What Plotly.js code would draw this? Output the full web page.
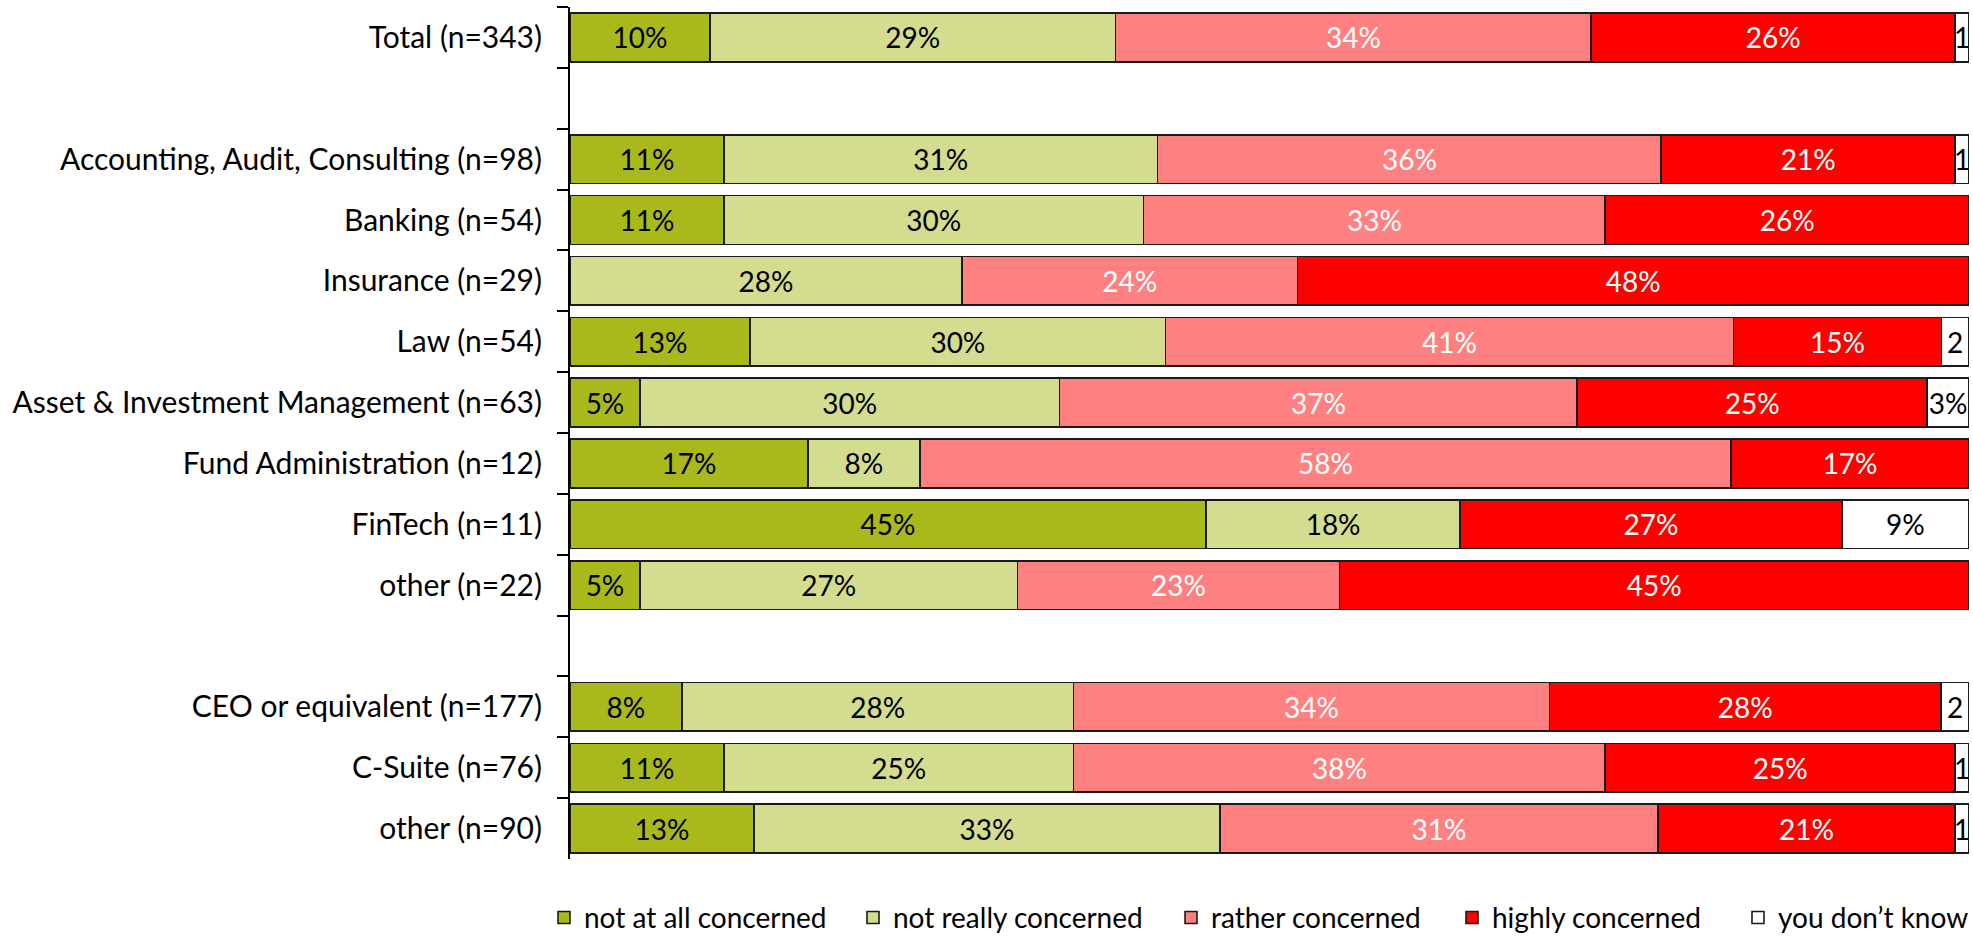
<!DOCTYPE html>
<html>
<head>
<meta charset="utf-8">
<script src="https://cdn.plot.ly/plotly-3.0.1.min.js"></script>
<style>
  html, body { margin: 0; padding: 0; background: #ffffff; }
  #chart { width: 1973px; height: 936px; }
</style>
</head>
<body>
<div id="chart"></div>
<script>
// Row labels, top to bottom; the whitespace-only entries are spacer rows.
const rowLabels = [
  'Total (n=343)',
  ' ',
  'Accounting, Audit, Consulting (n=98)',
  'Banking (n=54)',
  'Insurance (n=29)',
  'Law (n=54)',
  'Asset & Investment Management (n=63)',
  'Fund Administration (n=12)',
  'FinTech (n=11)',
  'other (n=22)',
  '  ',
  'CEO or equivalent (n=177)',
  'C-Suite (n=76)',
  'other (n=90)'
];

// Share of respondents per answer (%), one entry per row above.
const notAtAllConcerned  = [10, null, 11, 11, null, 13,  5, 17,   45,  5, null,  8, 11, 13];
const notReallyConcerned = [29, null, 31, 30, 28,   30, 30,  8,   18, 27, null, 28, 25, 33];
const ratherConcerned    = [34, null, 36, 33, 24,   41, 37, 58, null, 23, null, 34, 38, 31];
const highlyConcerned    = [26, null, 21, 26, 48,   15, 25, 17,   27, 45, null, 28, 25, 21];
const youDontKnow        = [ 1, null,  1, null, null, 2,  3, null,  9, null, null, 2,  1,  1];

const seriesNames = ['not at all concerned', 'not really concerned', 'rather concerned', 'highly concerned', 'you don\u2019t know'];

const FONT = 'Lato, "Open Sans", sans-serif';

// Plot area in pixels, used to place the legend entries under it.
const PLOT_LEFT = 570;
const PLOT_RIGHT = 4;
const PLOT_WIDTH = 1973 - PLOT_LEFT - PLOT_RIGHT;
// Left edge of each legend entry (px from the page's left side).
const legendLeftPx = [544, 853, 1171, 1452, 1738];

// Very narrow segments only have room for the number itself.
function segmentLabel(v) {
  if (v === null || v === undefined) return '';
  return v < 3 ? String(v) : v + '%';
}

function makeTrace(idx, values, fill, textColor) {
  return {
    type: 'bar',
    orientation: 'h',
    name: seriesNames[idx],
    legend: idx === 0 ? 'legend' : 'legend' + (idx + 1),
    y: rowLabels,
    x: values,
    text: values.map(segmentLabel),
    textposition: 'inside',
    insidetextanchor: 'middle',
    constraintext: 'none',
    textangle: 0,
    cliponaxis: false,
    textfont: { family: FONT, size: 28, color: textColor },
    marker: { color: fill, line: { color: '#1a1a1a', width: 1.6 } },
    hoverinfo: 'name+x'
  };
}

const traces = [
  makeTrace(0, notAtAllConcerned,  '#A9B81B', '#000000'),
  makeTrace(1, notReallyConcerned, '#D3DC8F', '#000000'),
  makeTrace(2, ratherConcerned,    '#FF8080', '#ffffff'),
  makeTrace(3, highlyConcerned,    '#FF0000', '#ffffff'),
  makeTrace(4, youDontKnow,        '#ffffff', '#000000')
];

function legendAt(px) {
  return {
    orientation: 'h',
    x: (px - PLOT_LEFT) / PLOT_WIDTH,
    xanchor: 'left',
    y: -0.069,
    yanchor: 'middle',
    font: { family: FONT, size: 28, color: '#000000' },
    bgcolor: 'rgba(0,0,0,0)',
    itemclick: false,
    itemdoubleclick: false
  };
}

const layout = {
  width: 1973,
  height: 936,
  margin: { l: PLOT_LEFT, r: PLOT_RIGHT, t: 7, b: 77, pad: 0, autoexpand: false },
  paper_bgcolor: '#ffffff',
  plot_bgcolor: '#ffffff',
  barmode: 'stack',
  barnorm: 'percent',
  bargap: 0.2,
  font: { family: FONT, size: 28, color: '#000000' },
  xaxis: {
    // a hair above 100 so rounding in the normalised stacks never lands outside
    range: [0, 100.0001],
    showgrid: false,
    zeroline: false,
    showline: false,
    showticklabels: false,
    ticks: '',
    fixedrange: true
  },
  yaxis: {
    type: 'category',
    categoryorder: 'array',
    categoryarray: rowLabels,
    autorange: 'reversed',
    showgrid: false,
    zeroline: false,
    showline: true,
    linecolor: '#000000',
    linewidth: 2,
    ticks: 'outside',
    tickson: 'boundaries',
    ticklen: 11,
    tickwidth: 2,
    tickcolor: '#000000',
    ticklabelstandoff: 20,
    tickfont: { family: FONT, size: 30, color: '#000000' },
    fixedrange: true
  },
  showlegend: true,
  legend: legendAt(legendLeftPx[0]),
  legend2: legendAt(legendLeftPx[1]),
  legend3: legendAt(legendLeftPx[2]),
  legend4: legendAt(legendLeftPx[3]),
  legend5: legendAt(legendLeftPx[4])
};

Plotly.newPlot('chart', traces, layout, { displayModeBar: false, staticPlot: true });
</script>
</body>
</html>
